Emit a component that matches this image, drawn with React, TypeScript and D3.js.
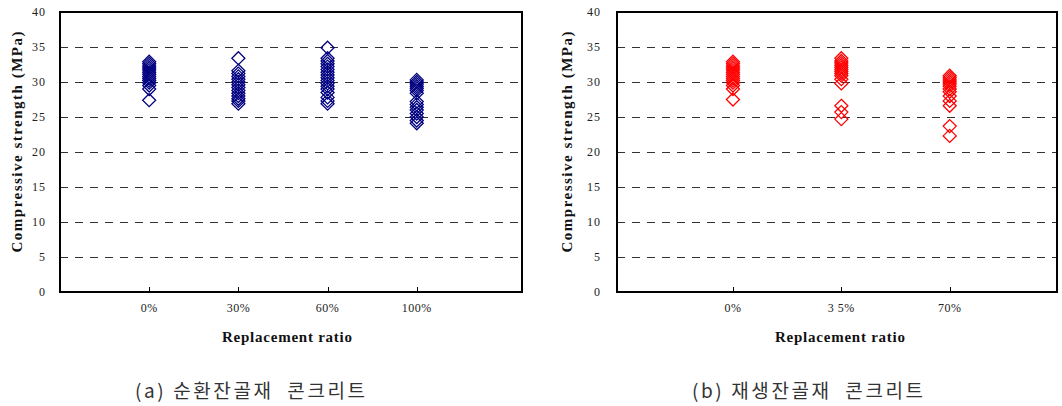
import React from "react";
import * as d3 from "d3";

const yTicks = [0, 5, 10, 15, 20, 25, 30, 35, 40];

const leftCategories = ["0%", "30%", "60%", "100%"];
const left0 = [32.9, 32.6, 32.3, 32.0, 31.7, 31.4, 31.1, 30.8, 30.5, 30.2, 29.9, 29.5, 29.0, 27.4];
const left30 = [33.4, 31.6, 31.2, 30.8, 30.4, 30.0, 29.6, 29.2, 28.8, 28.4, 28.0, 27.6, 27.3, 26.9];
const left60 = [34.9, 33.4, 33.0, 32.6, 32.2, 31.8, 31.4, 31.0, 30.6, 30.2, 29.8, 29.4, 29.0, 28.5, 27.8, 27.3, 26.9];
const left100 = [30.3, 30.0, 29.7, 29.4, 29.1, 28.8, 28.4, 27.2, 26.8, 26.4, 26.0, 25.5, 25.0, 24.5, 24.1];

const rightCategories = ["0%", "3 5%", "70%"];
const right0 = [32.9, 32.6, 32.3, 32.0, 31.7, 31.4, 31.1, 30.8, 30.5, 30.2, 29.9, 29.5, 29.0, 27.5];
const right35 = [33.4, 33.0, 32.7, 32.4, 32.1, 31.8, 31.5, 31.2, 30.9, 30.4, 29.8, 26.6, 25.7, 24.7];
const right70 = [30.9, 30.6, 30.3, 30.0, 29.7, 29.4, 29.0, 28.6, 28.0, 27.3, 26.6, 23.7, 22.3];

const leftSeries = [left0, left30, left60, left100];
const rightSeries = [right0, right35, right70];

const SERIF = "'Liberation Serif', 'Times New Roman', Times, serif";
const serifStyle = { fontFamily: SERIF };

type PanelProps = {
  x0: number;
  x1: number;
  xDomain: [number, number];
  categories: string[];
  series: number[][];
  color: string;
  labelRight: number;
  titleX: number;
  xTitleX: number;
};

function Panel({ x0, x1, xDomain, categories, series, color, labelRight, titleX, xTitleX }: PanelProps) {
  const top = 12;
  const bottom = 292;
  const y = d3.scaleLinear().domain([0, 40]).range([bottom, top]);
  const x = d3.scaleLinear().domain(xDomain).range([x0, x1]);
  const h = 6.5;
  const diamond = (cx: number, cy: number) =>
    `M${cx},${cy - h}L${cx + h},${cy}L${cx},${cy + h}L${cx - h},${cy}Z`;
  return (
    <g>
      {yTicks
        .filter((t) => t > 0 && t < 40)
        .map((t) => (
          <line
            key={"g" + t}
            x1={x0}
            x2={x1}
            y1={y(t) + 0.5}
            y2={y(t) + 0.5}
            stroke="#333"
            strokeWidth={1}
            strokeDasharray="8,7"
          />
        ))}
      {yTicks.map((t) => (
        <text
          key={"yl" + t}
          x={labelRight}
          y={y(t) + 4}
          textAnchor="end"
          style={serifStyle}
          fontSize={12}
          fill="#222"
          letterSpacing={1}
        >
          {t}
        </text>
      ))}
      {categories.map((c, i) => (
        <g key={"c" + c}>
          <line
            x1={Math.round(x(i + 1)) + 0.5}
            x2={Math.round(x(i + 1)) + 0.5}
            y1={bottom}
            y2={bottom - 5}
            stroke="#000"
            strokeWidth={1}
          />
          <text
            x={x(i + 1)}
            y={312}
            textAnchor="middle"
            style={serifStyle}
            fontSize={12}
            fill="#222"
            letterSpacing={0.5}
          >
            {c}
          </text>
        </g>
      ))}
      {series.map((vals, i) =>
        vals.map((v, j) => (
          <path
            key={"p" + i + "_" + j}
            d={diamond(x(i + 1), y(v))}
            fill="none"
            stroke={color}
            strokeWidth={1.3}
          />
        ))
      )}
      <rect x={x0} y={top} width={x1 - x0} height={bottom - top} fill="none" stroke="#000" strokeWidth={2} />
      <text
        transform={`translate(${titleX},142) rotate(-90)`}
        textAnchor="middle"
        style={serifStyle}
        fontWeight="bold"
        fontSize={15}
        fill="#111"
        textLength={221}
        lengthAdjust="spacing"
      >
        Compressive strength (MPa)
      </text>
      <text
        x={xTitleX}
        y={342}
        textAnchor="middle"
        style={serifStyle}
        fontWeight="bold"
        fontSize={15}
        fill="#111"
        textLength={130}
        lengthAdjust="spacing"
      >
        Replacement ratio
      </text>
    </g>
  );
}

export default function App() {
  return (
    <svg width={1062} height={406} style={{ position: "absolute", left: 0, top: 0, background: "#fff" }}>
      <rect x={0} y={0} width={1062} height={406} fill="#fff" />
      <Panel
        x0={60}
        x1={522}
        xDomain={[0, 5.18]}
        categories={leftCategories}
        series={leftSeries}
        color="#000080"
        labelRight={46}
        titleX={22}
        xTitleX={287}
      />
      <Panel
        x0={617}
        x1={1057}
        xDomain={[-0.07, 3.99]}
        categories={rightCategories}
        series={rightSeries}
        color="#ff0000"
        labelRight={601}
        titleX={572}
        xTitleX={840}
      />
      <text
        x={135}
        y={398}
        style={{ fontFamily: "'Noto Sans CJK KR', sans-serif", whiteSpace: "pre" }}
        fontSize={19}
        fill="#333"
        letterSpacing={2.6}
      >
        {"(a) 순환잔골재  콘크리트"}
      </text>
      <text
        x={692}
        y={398}
        style={{ fontFamily: "'Noto Sans CJK KR', sans-serif", whiteSpace: "pre" }}
        fontSize={19}
        fill="#333"
        letterSpacing={2.6}
      >
        {"(b) 재생잔골재  콘크리트"}
      </text>
    </svg>
  );
}
